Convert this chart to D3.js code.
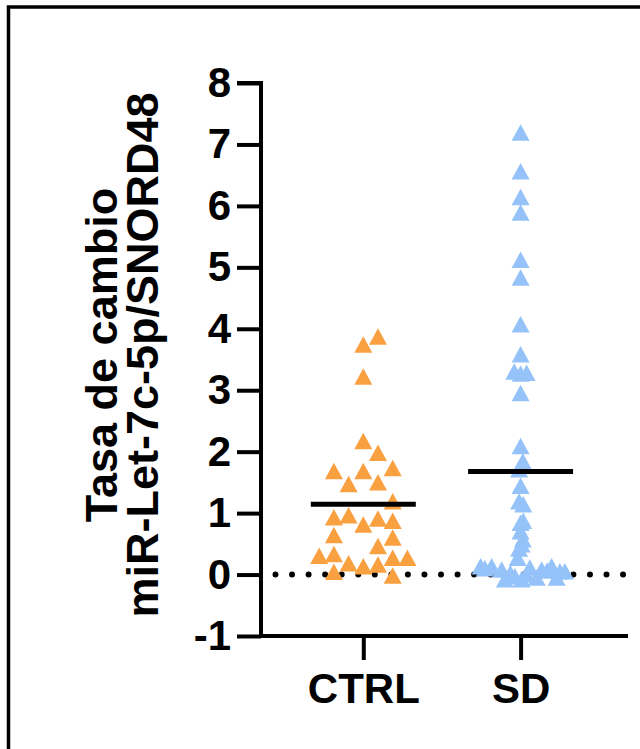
<!DOCTYPE html>
<html>
<head>
<meta charset="utf-8">
<script src="https://cdn.jsdelivr.net/npm/d3@7"></script>
<style>
  html, body { margin: 0; padding: 0; background: #fff; }
  svg { display: block; }
  text { font-family: "Liberation Sans", Arial, Helvetica, sans-serif; font-weight: bold; }
</style>
</head>
<body>
<svg id="chart" width="640" height="749"></svg>
<script>
// ---- data ----
const categories = ["CTRL", "SD"];
const yTicks = [-1, 0, 1, 2, 3, 4, 5, 6, 7, 8];
const yTitleLines = ["Tasa de cambio", "miR-Let-7c-5p/SNORD48"];

// fold change values
const ctrlValues = [3.87, 3.74, 3.22, 2.17, 1.98, 1.68, 1.68, 1.73, 1.47, 1.50,
  1.19, 0.93, 0.96, 0.91, 0.87, 0.81, 0.64, 0.60, 0.46, 0.30,
  0.33, 0.27, 0.27, 0.18, 0.13, 0.16, 0.04, -0.02];
// horizontal scatter column of each point (as drawn in the original)
const ctrlJitter = [1, 0, 0, 0, 1, -2, 0, 2, -1, 1,
  2, -2, -1, 1, 2, 0, -2, 2, 1, -3,
  -2, 2, 3, -1, 0, 1, -2, 2];

const sdValues = [7.19, 6.56, 6.14, 5.89, 5.12, 4.83, 4.07, 3.58, 3.30, 3.27,
  3.28, 2.95, 2.09, 1.84, 1.71, 1.44, 1.19, 1.14, 0.87, 0.84,
  0.70, 0.57, 0.49, 0.42,
  0.13, 0.10, 0.13, 0.08, -0.08, -0.03, 0.27, -0.08, 0.11, -0.05,
  0.08, 0.13, -0.05, 0.05, 0.05, 0.02, 0.00, 0.06];
const sdJitter = [0, 0, 0, 0, 0, 0, 0, 0, -0.43, 0,
  0.41, 0, 0, 0.15, -0.1, 0, -0.1, 0.18, 0.18, 0,
  0, 0.15, 0.07, -0.1,
  -2.72, -2.43, -1.97, -1.29, -1.07, -0.39, -0.2, 0.07, 0.63, 1.09,
  1.43, 2.11, 2.45, 2.67, 3.01, -0.7, 0.4, 1.8];

const series = [
  { name: "CTRL", values: ctrlValues, jitter: ctrlJitter, color: "#F9A040" },
  { name: "SD", values: sdValues, jitter: sdJitter, color: "#94C2F9" }
];

// ---- layout ----
const svg = d3.select("#chart");
const plot = { left: 261, right: 628, top: 83, bottom: 636 };
const slot = 14.7;

// outer frame
svg.append("rect")
  .attr("x", 8.5).attr("y", 7)
  .attr("width", 800).attr("height", 900)
  .attr("fill", "none").attr("stroke", "#000").attr("stroke-width", 3.5);

const y = d3.scaleLinear().domain([-1, 8]).range([plot.bottom, plot.top]);
const x = d3.scalePoint().domain(categories).range([363.3, 520.6]);

// zero dotted line
svg.append("line")
  .attr("x1", 275.5).attr("x2", 628)
  .attr("y1", y(0)).attr("y2", y(0))
  .attr("stroke", "#000").attr("stroke-width", 6)
  .attr("stroke-linecap", "round")
  .attr("stroke-dasharray", "0,16.55");

// points
const tri = "M0,-8.5L9,8L-9,8Z";
series.forEach(s => {
  svg.append("g").selectAll("path")
    .data(s.values.map((v, i) => ({ v, j: s.jitter[i] })))
    .join("path")
    .attr("d", tri)
    .attr("transform", d => `translate(${x(s.name) + d.j * slot},${y(d.v)})`)
    .attr("fill", s.color);
});

// mean lines
series.forEach(s => {
  const m = d3.mean(s.values);
  svg.append("line")
    .attr("x1", x(s.name) - 52.5).attr("x2", x(s.name) + 52.5)
    .attr("y1", y(m)).attr("y2", y(m))
    .attr("stroke", "#000").attr("stroke-width", 5);
});

// y axis
const yAxis = svg.append("g")
  .attr("transform", `translate(${plot.left},0)`)
  .call(d3.axisLeft(y).tickValues(yTicks).tickSize(24).tickPadding(6).tickFormat(d => String(d)));
yAxis.select(".domain").attr("stroke-width", 4).attr("d", `M-24,${plot.top}H0V${plot.bottom}`);
yAxis.selectAll(".tick line").attr("stroke-width", 4);
yAxis.selectAll(".tick text").attr("font-size", 42).attr("fill", "#000")
  .attr("font-family", "'Liberation Sans', Arial, sans-serif").attr("font-weight", "bold");

// x axis
const xAxis = svg.append("g")
  .attr("transform", `translate(0,${plot.bottom})`)
  .call(d3.axisBottom(x).tickSize(24).tickPadding(13));
xAxis.select(".domain").attr("stroke-width", 4).attr("d", `M${plot.left - 2},0H${plot.right}`);
xAxis.selectAll(".tick line").attr("stroke-width", 4);
xAxis.selectAll(".tick text").attr("font-size", 42).attr("fill", "#000")
  .attr("font-family", "'Liberation Sans', Arial, sans-serif").attr("font-weight", "bold");

// y title
const cy = 355;
const title = svg.append("text")
  .attr("transform", `translate(117,${cy}) rotate(-90)`)
  .attr("text-anchor", "middle")
  .attr("font-size", 45).attr("fill", "#000");
title.append("tspan").attr("x", 0).attr("y", 0).text(yTitleLines[0]);
title.append("tspan").attr("x", 0).attr("y", 41).text(yTitleLines[1]);
</script>
</body>
</html>
